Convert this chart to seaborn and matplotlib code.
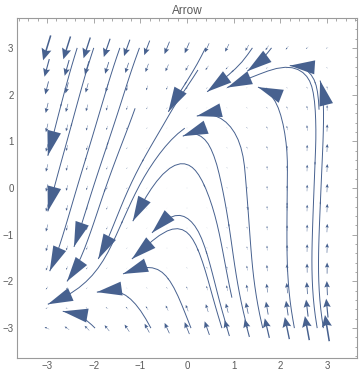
import numpy as np
import matplotlib.pyplot as plt
import seaborn as sns

# sample grid of the vector arrows (15 x 15 over [-3, 3])
xs = np.linspace(-3, 3, 15)
ys = np.linspace(-3, 3, 15)

# horizontal component, rows from y=-3 (bottom) to y=3 (top)
u_rows = [
    [-2.05, -1.99, -1.92, -1.86, -1.79, -1.73, -1.66, -1.60, -1.54, -1.47, -1.41, -1.34, -1.28, -1.21, -1.15],
    [-1.45, -1.39, -1.32, -1.26, -1.19, -1.13, -1.06, -1.00, -0.94, -0.87, -0.81, -0.74, -0.68, -0.61, -0.55],
    [-1.09, -1.03, -0.96, -0.90, -0.83, -0.77, -0.70, -0.64, -0.58, -0.51, -0.45, -0.38, -0.32, -0.25, -0.19],
    [-0.89, -0.83, -0.76, -0.70, -0.63, -0.57, -0.50, -0.44, -0.38, -0.31, -0.25, -0.18, -0.12, -0.05, 0.01],
    [-0.79, -0.73, -0.66, -0.60, -0.53, -0.47, -0.40, -0.34, -0.28, -0.21, -0.15, -0.08, -0.02, 0.05, 0.11],
    [-0.76, -0.70, -0.63, -0.57, -0.50, -0.44, -0.37, -0.31, -0.25, -0.18, -0.12, -0.05, 0.01, 0.08, 0.14],
    [-0.75, -0.69, -0.62, -0.56, -0.49, -0.43, -0.36, -0.30, -0.24, -0.17, -0.11, -0.04, 0.02, 0.09, 0.15],
    [-0.75, -0.69, -0.62, -0.56, -0.49, -0.43, -0.36, -0.30, -0.24, -0.17, -0.11, -0.04, 0.02, 0.09, 0.15],
    [-0.75, -0.69, -0.62, -0.56, -0.49, -0.43, -0.36, -0.30, -0.24, -0.17, -0.11, -0.04, 0.02, 0.09, 0.15],
    [-0.76, -0.70, -0.63, -0.57, -0.50, -0.44, -0.37, -0.31, -0.25, -0.35, -0.35, -0.30, -0.20, 0.08, 0.14],
    [-0.79, -0.73, -0.66, -0.60, -0.53, -0.47, -0.40, -0.34, -0.50, -0.60, -0.60, -0.50, -0.35, -0.15, 0.11],
    [-0.89, -0.83, -0.76, -0.70, -0.63, -0.57, -0.50, -0.60, -0.70, -0.75, -0.75, -0.65, -0.45, -0.25, 0.01],
    [-1.09, -1.03, -0.96, -0.90, -0.83, -0.77, -0.85, -0.90, -0.95, -0.95, -0.90, -0.80, -0.60, -0.40, -0.19],
    [-1.45, -1.39, -1.32, -1.26, -1.19, -1.13, -1.20, -1.25, -1.30, -1.30, -1.25, -1.20, -1.10, -0.90, -0.70],
    [-2.05, -1.99, -1.92, -1.86, -1.79, -1.73, -1.66, -1.60, -1.54, -1.47, -1.41, -1.34, -1.28, -1.21, -1.15],
]

# vertical component, same layout
v_rows = [
    [1.0, 1.4, 1.9, 2.3, 2.7, 3.2, 3.6, 4.0, 4.4, 4.9, 5.3, 5.7, 6.2, 6.6, 7.0],
    [-0.4, 0.0, 0.4, 0.9, 1.3, 1.7, 2.2, 2.6, 3.0, 3.4, 3.9, 4.3, 4.7, 5.2, 5.6],
    [-1.4, -1.0, -0.6, -0.2, 0.3, 0.7, 1.1, 1.6, 2.0, 2.4, 2.8, 3.3, 3.7, 4.1, 4.6],
    [-2.1, -1.7, -1.3, -0.8, -0.4, 0.0, 0.4, 0.9, 1.3, 1.7, 2.2, 2.6, 3.0, 3.4, 3.9],
    [-2.6, -2.1, -1.7, -1.3, -0.8, -0.4, 0.0, 0.5, 0.9, 1.3, 1.7, 2.2, 2.6, 3.0, 3.5],
    [-2.8, -2.3, -1.9, -1.5, -1.0, -0.6, -0.2, 0.2, 0.7, 1.1, 1.5, 2.0, 2.4, 2.8, 3.2],
    [-2.8, -2.4, -2.0, -1.6, -1.1, -0.7, -0.3, 0.2, 0.6, 1.0, 1.4, 1.9, 2.3, 2.7, 3.2],
    [-2.9, -2.4, -2.0, -1.6, -1.1, -0.7, -0.3, 0.2, 0.6, 1.0, 1.4, 1.9, 2.3, 2.7, 3.2],
    [-2.9, -2.4, -2.0, -1.6, -1.1, -0.7, -0.3, 0.1, 0.6, 1.0, 1.4, 1.9, 2.3, 2.7, 3.1],
    [-2.9, -2.5, -2.1, -1.7, -1.2, -0.8, -0.4, 0.1, 0.5, 0.9, 1.4, 1.8, 2.2, 2.6, 3.1],
    [-3.2, -2.7, -2.3, -1.9, -1.4, -1.0, -0.6, -0.2, 0.3, 0.7, 1.1, 1.6, 2.0, 2.4, 2.9],
    [-3.6, -3.1, -2.7, -2.3, -1.9, -1.4, -1.0, -0.6, -0.1, 0.3, 0.7, 1.1, 1.6, 2.0, 2.4],
    [-4.3, -3.8, -3.4, -3.0, -2.6, -2.1, -1.7, -1.3, -0.8, -0.4, 0.0, 0.5, 0.9, 1.3, 1.7],
    [-5.3, -4.9, -4.4, -4.0, -3.6, -3.1, -2.7, -2.3, -1.9, -1.4, -1.0, -0.6, 0.1, 0.6, 0.9],
    [-6.7, -6.3, -5.9, -5.4, -5.0, -4.6, -4.1, -3.7, -3.3, -2.9, -2.4, -2.0, -1.6, -1.1, -0.7],
]

# streamlines: arrow tip of each one, and its length upstream of the tip
stream_tips = [
    (-2.98, 0.69), (-2.98, -0.50), (-2.94, -1.78), (-2.42, -1.26), (-2.57, -2.00),
    (-1.90, -1.52), (-1.16, -0.71), (-0.75, -0.96), (-1.18, -1.52), (-1.37, -1.84),
    (-1.93, -2.23), (-2.66, -2.64), (-2.98, -2.49), (-0.40, 1.63), (0.43, 2.06),
    (1.29, 2.50), (0.86, 2.15), (2.20, 2.62), (2.85, 2.30), (1.52, 2.16),
    (0.21, 1.54), (-0.09, 1.11),
]
stream_lengths = [
    2.5, 3.7, 5.0, 4.6, 4.0,
    4.6, 5.0, 5.0, 5.0, 3.0,
    2.0, 2.0, 5.0, 1.8, 1.2,
    1.0, 8.0, 1.5, 6.0, 6.0,
    6.0, 6.0,
]

sns.set_theme(style="white")
plt.rcParams['font.family'] = ['Liberation Sans', 'DejaVu Sans']

blue = '#47618f'
gray = '#9a9a9a'
label_gray = '#5a5a5a'

U = np.array(u_rows)
V = np.array(v_rows)
X, Y = np.meshgrid(xs, ys)

# arrow length grows faster than the magnitude, as in the reference
mag = np.hypot(U, V)
gain = (mag / mag.max()) ** 0.45
Uq, Vq = U * gain, V * gain

fig = plt.figure(figsize=(3.6, 3.77), dpi=100)
ax = fig.add_axes([17 / 360, 1 - 358 / 377, 340 / 360, 340 / 377])

ax.quiver(X, Y, Uq, Vq, pivot='middle', angles='xy', scale_units='xy', scale=12.5,
          width=0.0046, headwidth=6.5, headlength=7.5, headaxislength=6.5,
          minshaft=2.2, minlength=0.3, color=blue)

for tip, length in zip(stream_tips, stream_lengths):
    sp = ax.streamplot(xs, ys, U, V, start_points=[tip], integration_direction='backward',
                       broken_streamlines=False, maxlength=length / 6, minlength=0.01,
                       color=blue, linewidth=0.7, arrowstyle='-')
    paths = sp.lines.get_segments()
    if len(paths) == 0 or len(paths[0]) < 2:
        continue
    path = np.asarray(paths[0])
    head = path[-1]
    # point a little upstream of the tip gives the arrow its direction
    dist = np.hypot(path[:, 0] - head[0], path[:, 1] - head[1])
    far = np.nonzero(dist > 0.12)[0]
    tail = path[far[-1]] if len(far) else path[0]
    ax.annotate('', xy=tuple(head), xytext=tuple(tail),
                arrowprops=dict(arrowstyle='-|>,head_length=1.5,head_width=0.42',
                                color=blue, lw=0, shrinkA=0, shrinkB=0))

ax.set_xlim(-3.64, 3.64)
ax.set_ylim(-3.64, 3.64)
ax.set_xticks([-3, -2, -1, 0, 1, 2, 3])
ax.set_yticks([-3, -2, -1, 0, 1, 2, 3])
ax.set_xticks(np.arange(-3.6, 3.61, 0.2), minor=True)
ax.set_yticks(np.arange(-3.6, 3.61, 0.2), minor=True)
ax.tick_params(which='both', direction='in', top=True, right=True, color=gray,
               labelcolor=label_gray, labelsize=7, width=0.6)
ax.tick_params(which='major', length=3.5, pad=2.5)
ax.tick_params(which='minor', length=1.8)
for sp_ in ax.spines.values():
    sp_.set_color(gray)
    sp_.set_linewidth(0.8)
ax.set_title('Arrow', color=label_gray, fontsize=8.5, pad=3)

fig.savefig('out.png', dpi=100)
